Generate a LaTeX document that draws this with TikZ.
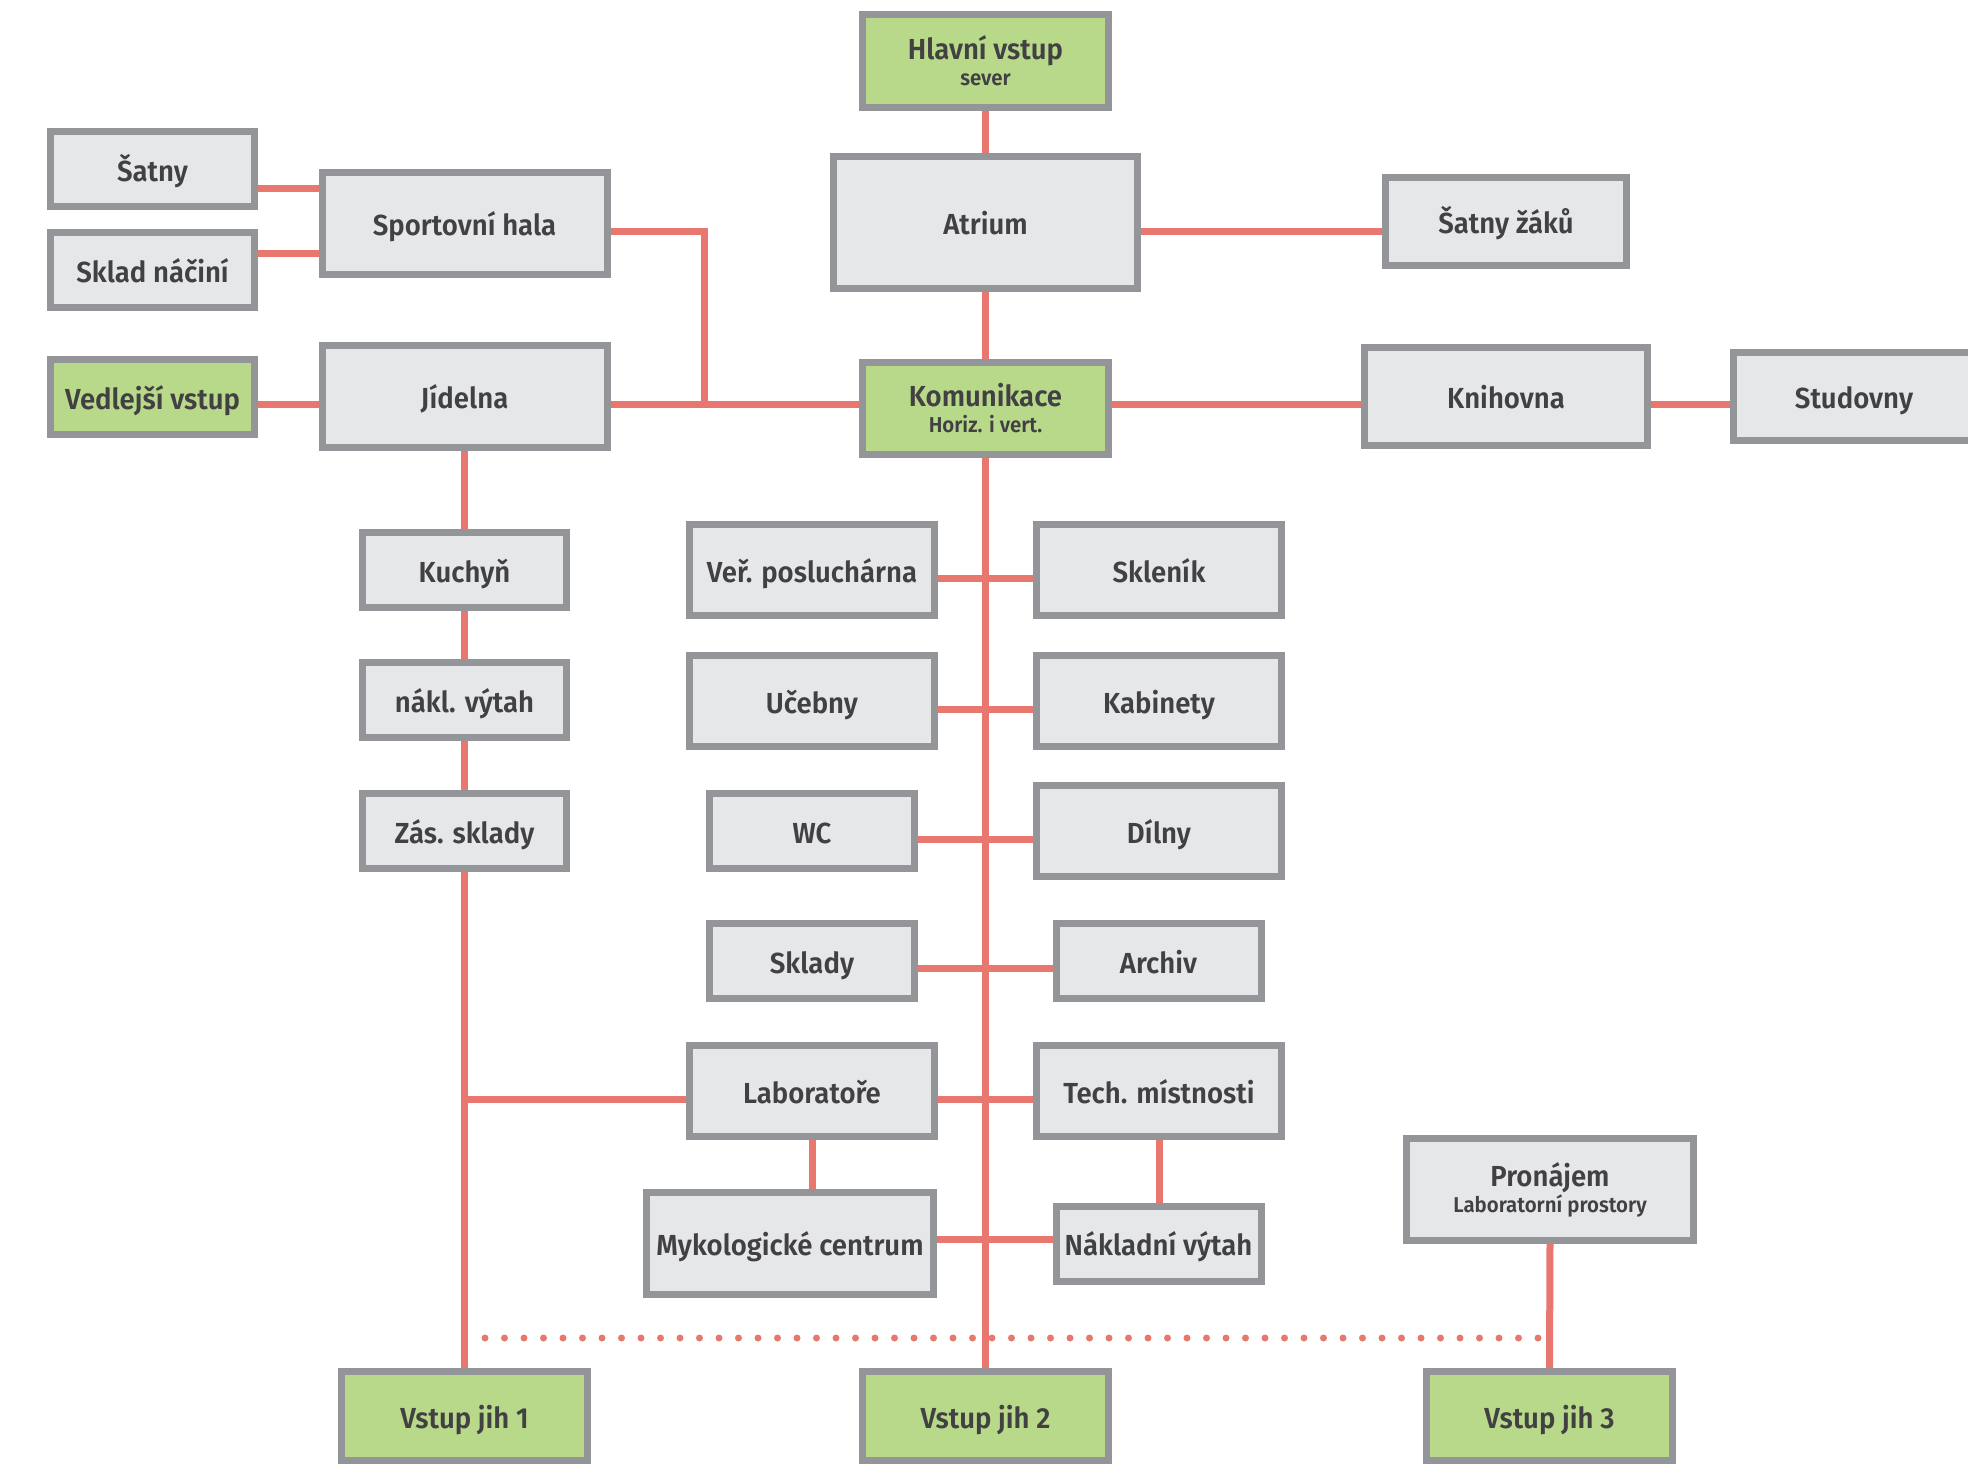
\documentclass[tikz,border=0pt]{standalone}
\usepackage{fontspec}
\setmainfont{Fira Sans SemiBold}[FakeStretch=0.95]
\usetikzlibrary{calc}
\definecolor{bordc}{HTML}{939598}
\definecolor{boxc}{HTML}{E6E7E8}
\definecolor{greenc}{HTML}{B9D98A}
\definecolor{linec}{HTML}{E8776F}
\definecolor{textc}{HTML}{414042}
\pgfdeclarelayer{bg}
\pgfsetlayers{bg,main}
\newcommand\mainf{\fontsize{29}{34}\selectfont}
\newcommand\subf{\fontsize{21.5}{24}\selectfont}
\begin{document}
\begin{tikzpicture}[x=1pt,y=-1pt,
 boxbase/.style={draw=bordc, line width=7pt, fill=boxc, inner sep=0pt, text=textc, font=\mainf, align=center},
 room/.style={boxbase, text height=24pt, text depth=0pt},
 entry/.style={room, fill=greenc},
 room2/.style={boxbase},
 entry2/.style={boxbase, fill=greenc},
 sz/.style 2 args={minimum width={#1-7}, minimum height={#2-7}},
 conn/.style={draw=linec, line width=7pt},
 dots/.style={draw=linec, line width=7pt, line cap=round, dash pattern=on 0pt off 19.5pt}]
\useasboundingbox (0,0) rectangle (1968,1465);
\clip (0,0) rectangle (1968,1465);

\node[entry2, sz={253}{100}] (hlavni) at (985.5,61) {Hlavní vstup\\[-8pt]{\subf sever}};
\node[room, sz={311}{139}] (atrium) at (985.5,222.5) {Atrium};
\node[room, sz={248}{95}] (satnyz) at (1506,221.5) {Šatny žáků};
\node[room, sz={211}{82}] (satny) at (152.5,169) {Šatny};
\node[room, sz={211}{82}] (sklad) at (152.5,270) {Sklad náčiní};
\node[room, sz={292}{109}] (sport) at (464.5,223.5) {Sportovní hala};
\node[entry, sz={211}{82}] (vedl) at (152.5,397) {Vedlejší vstup};
\node[room, sz={292}{109}] (jid) at (464.5,396.5) {Jídelna};
\node[entry2, sz={253}{99}] (komu) at (985.5,408.5) {Komunikace\\[-8pt]{\subf Horiz. i vert.}};
\node[room, sz={290}{105}] (knih) at (1506,396.5) {Knihovna};
\node[room, sz={248}{95}] (stud) at (1854,396.5) {Studovny};
\node[room, sz={211}{82}] (kuch) at (464.5,570) {Kuchyň};
\node[room, sz={211}{82}] (naklv) at (464.5,700) {nákl. výtah};
\node[room, sz={211}{82}] (zas) at (464.5,831) {Zás. sklady};
\node[room, sz={252}{98}] (ver) at (812,570) {Veř. posluchárna};
\node[room, sz={252}{98}] (skl) at (1159,570) {Skleník};
\node[room, sz={252}{98}] (uceb) at (812,701) {Učebny};
\node[room, sz={252}{98}] (kab) at (1159,701) {Kabinety};
\node[room, sz={212}{82}] (wc) at (812,831) {WC};
\node[room, sz={252}{98}] (diln) at (1159,831) {Dílny};
\node[room, sz={212}{82}] (sklady) at (812,961) {Sklady};
\node[room, sz={212}{82}] (arch) at (1158.5,961) {Archiv};
\node[room, sz={252}{98}] (lab) at (812,1091) {Laboratoře};
\node[room, sz={252}{98}] (tech) at (1159,1091) {Tech. místnosti};
\node[room, sz={294}{109}] (myko) at (790,1243.5) {Mykologické centrum};
\node[room, sz={212}{82}] (nakl) at (1158.5,1243.5) {Nákladní výtah};
\node[room2, sz={294}{109}] (pron) at (1550,1189.5) {Pronájem\\[-8pt]{\subf Laboratorní prostory}};
\node[entry, sz={253}{96}] (j1) at (464.5,1416) {Vstup jih 1};
\node[entry, sz={253}{96}] (j2) at (985.5,1416) {Vstup jih 2};
\node[entry, sz={253}{96}] (j3) at (1549.5,1416) {Vstup jih 3};

\coordinate (h188) at (0,188);
\coordinate (h253) at (0,253);
\coordinate (h231) at (0,231);
\coordinate (h404) at (0,404);
\coordinate (h578) at (0,578);
\coordinate (h709) at (0,709);
\coordinate (h839) at (0,839);
\coordinate (h968) at (0,968);
\coordinate (h1099) at (0,1099);
\coordinate (h1239) at (0,1239);
\coordinate (sj) at (704,404);
\coordinate (d1) at (485,1338);
\coordinate (d2) at (1541,1338);

\begin{pgfonlayer}{bg}
\draw[dots] (d1) -- (d2);
\draw[conn] (hlavni.south) -- (atrium.north);
\draw[conn] (atrium.south) -- (komu.north);
\draw[conn] (komu.south) -- (j2.north);
\draw[conn] (atrium.east |- h231) -- (satnyz.west |- h231);
\draw[conn] (satny.east |- h188) -- (sport.west |- h188);
\draw[conn] (sklad.east |- h253) -- (sport.west |- h253);
\draw[conn] (sport.east |- h231) -| (sj);
\draw[conn] (vedl.east |- h404) -- (jid.west |- h404);
\draw[conn] (jid.east |- h404) -- (komu.west |- h404);
\draw[conn] (komu.east |- h404) -- (knih.west |- h404);
\draw[conn] (knih.east |- h404) -- (stud.west |- h404);
\draw[conn] (jid.south) -- (kuch.north);
\draw[conn] (kuch.south) -- (naklv.north);
\draw[conn] (naklv.south) -- (zas.north);
\draw[conn] (zas.south) -- (j1.north);
\draw[conn] (zas.south |- h1099) -- (lab.west |- h1099);
\draw[conn] (ver.east |- h578) -- (skl.west |- h578);
\draw[conn] (uceb.east |- h709) -- (kab.west |- h709);
\draw[conn] (wc.east |- h839) -- (diln.west |- h839);
\draw[conn] (sklady.east |- h968) -- (arch.west |- h968);
\draw[conn] (lab.east |- h1099) -- (tech.west |- h1099);
\draw[conn] (myko.east |- h1239) -- (nakl.west |- h1239);
\draw[conn] (lab.south) -- (lab.south |- myko.north);
\draw[conn] (tech.south) -- (tech.south |- nakl.north);
\draw[conn] (pron.south) -- (j3.north);
\end{pgfonlayer}
\end{tikzpicture}
\end{document}
